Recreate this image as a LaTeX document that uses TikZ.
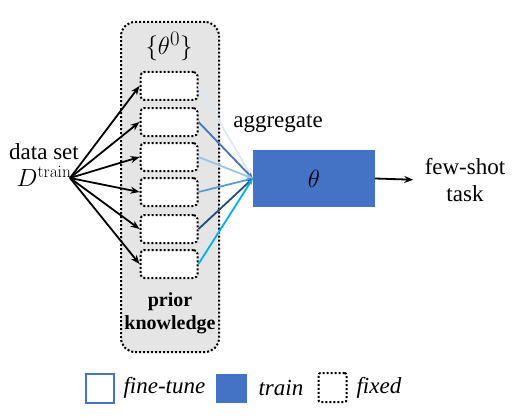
\documentclass[tikz,border=0pt]{standalone}
\usepackage[no-math]{fontspec}
\setmainfont{Liberation Serif}
\usetikzlibrary{arrows.meta}
\definecolor{trainblue}{HTML}{4472C4}
\definecolor{aggone}{HTML}{DCE8F5}
\definecolor{aggtwo}{HTML}{4472C4}
\definecolor{aggthree}{HTML}{9DC3E6}
\definecolor{aggfour}{HTML}{5B9BD5}
\definecolor{aggfive}{HTML}{1F4E79}
\definecolor{aggsix}{HTML}{00B0F0}
\tikzstyle{dots} = [draw,line width=2pt,dash pattern=on 2pt off 2pt]
\tikzstyle{prior} = [dots,fill=black!10,rounded corners=14pt,minimum width=98pt,minimum height=330pt]
\tikzstyle{param} = [dots,fill=white,rounded corners=4pt,minimum width=57pt,minimum height=28pt,inner sep=0pt]
\tikzstyle{model} = [fill=trainblue,minimum width=122pt,minimum height=57pt]
\tikzstyle{feed} = [draw,line width=1.8pt,-{Stealth[length=9pt,width=7pt]}]
\tikzstyle{agg} = [draw,line width=1.8pt,-{Stealth[length=6pt,width=5pt]}]
\tikzstyle{legbox} = [minimum width=28pt,minimum height=29pt,inner sep=0pt]

\begin{document}
\begin{tikzpicture}[x=1pt,y=-1pt,font=\fontsize{23}{27}\selectfont]
    \useasboundingbox (0,0) rectangle (513,417);
    % prior knowledge
    \node[prior] (box) at (170,187) {};
    \node (init) at (169,46) {\fontsize{31}{34}\selectfont$\{\theta^0\}$};
    \foreach \y/\name in {86/p1, 122/p2, 157/p3, 192/p4, 229/p5, 264/p6}
        \node[param] (\name) at (169,\y) {};
    \node[align=center,font=\bfseries\fontsize{20}{23}\selectfont] (pk) at (170,313) {prior\\knowledge};
    % data
    \node[align=center] (data) at (44,165) {data set\\$D^{\mathrm{train}}$};
    \coordinate (src) at (70,178);
    \foreach \name in {p1, p2, p3, p4, p5, p6}
        \path[feed] (src) -- (\name.west);
    % model
    \node[model] (model) at (314,178.5) {\fontsize{38}{38}\selectfont$\theta$};
    \node (aggr) at (278,124) {aggregate};
    \foreach \name/\col in {p1/aggone, p2/aggtwo, p3/aggthree, p4/aggfour, p5/aggfive, p6/aggsix}
        \path[agg,\col] (\name.east) -- (model.west);
    \node[align=center] (task) at (465,180) {few-shot\\task};
    \path[feed,shorten >=8pt] (model.east) -- (task.west);
    % legend
    \node[legbox,draw=trainblue,line width=2pt] (lft) at (100,388) {};
    \node[anchor=west] (tft) at (120,388) {\itshape fine-tune};
    \node[legbox,fill=trainblue,minimum width=31pt] (ltr) at (231.5,388) {};
    \node[anchor=west] (ttr) at (255,388) {\itshape train};
    \node[legbox,dots,rounded corners=2pt] (lfx) at (332.5,387.5) {};
    \node[anchor=west] (tfx) at (353,388) {\itshape fixed};
\end{tikzpicture}
\end{document}
